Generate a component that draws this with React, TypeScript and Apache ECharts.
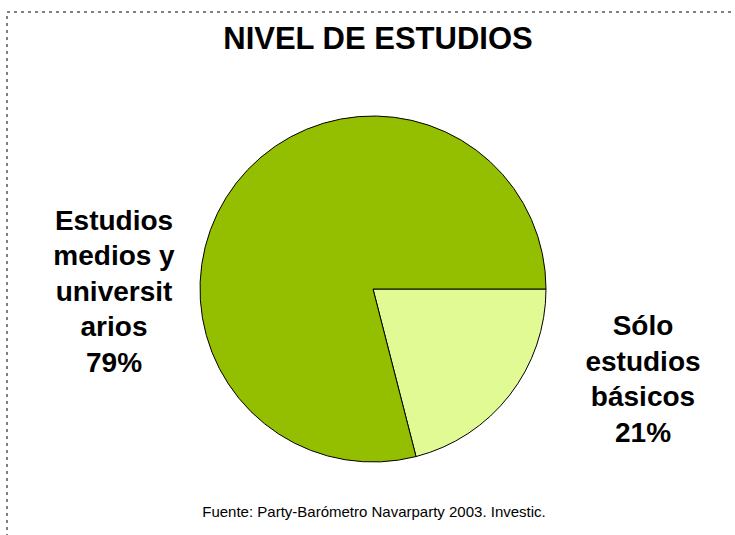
import React, { useEffect, useRef } from "react";
import * as echarts from "echarts";

const categories = ["Sólo estudios básicos", "Estudios medios y universitarios"];
const values = [21, 79];
const labelLines = [
  ["Sólo", "estudios", "básicos"],
  ["Estudios", "medios y", "universit", "arios"],
];
const colors = ["#E1FA93", "#93BF00"];
const titleText = "NIVEL DE ESTUDIOS";
const sourceText = "Fuente: Party-Barómetro Navarparty 2003. Investic.";

export default function App() {
  const ref = useRef<HTMLDivElement>(null);
  useEffect(() => {
    if (!ref.current) return;
    const chart = echarts.init(ref.current, undefined, { renderer: "svg" });
    const labelPos = [
      { x: 643, y: 379 },
      { x: 114, y: 291 },
    ];
    chart.setOption({
      animation: false,
      backgroundColor: "#ffffff",
      title: {
        text: titleText,
        left: 373,
        top: 18,
        textAlign: "center",
        textStyle: {
          fontFamily: "Liberation Sans, Arial, sans-serif",
          fontSize: 31,
          fontWeight: "bold",
          color: "#000000",
        },
      },
      graphic: [
        {
          type: "rect",
          shape: { x: 7, y: 12, width: 800, height: 600 },
          style: { fill: "none", stroke: "#808080", lineWidth: 2, lineDash: [3, 4] },
          silent: true,
        },
        {
          type: "text",
          x: 374,
          y: 511,
          style: {
            text: sourceText,
            fill: "#000000",
            fontFamily: "Liberation Sans, Arial, sans-serif",
            fontSize: 15,
            align: "center",
            verticalAlign: "middle",
          },
        },
      ],
      series: [
        {
          type: "pie",
          center: [373, 289],
          radius: 173,
          startAngle: 0,
          clockwise: true,
          avoidLabelOverlap: false,
          itemStyle: { borderColor: "#000000", borderWidth: 1 },
          emphasis: { disabled: true },
          labelLine: { show: false },
          label: {
            show: true,
            position: "outside",
            formatter: (p: any) =>
              labelLines[p.dataIndex].join("\n") + "\n" + p.value + "%",
            fontFamily: "Liberation Sans, Arial, sans-serif",
            fontSize: 28,
            fontWeight: "bold",
            lineHeight: 35.5,
            color: "#000000",
            align: "center",
          },
          labelLayout: (p: any) => ({
            x: labelPos[p.dataIndex].x,
            y: labelPos[p.dataIndex].y,
            align: "center",
            verticalAlign: "middle",
          }),
          data: categories.map((c, i) => ({
            name: c,
            value: values[i],
            itemStyle: { color: colors[i] },
          })),
        },
      ],
    });
    return () => chart.dispose();
  }, []);
  return (
    <div
      ref={ref}
      style={{ position: "fixed", left: 0, top: 0, width: 735, height: 535 }}
    />
  );
}
